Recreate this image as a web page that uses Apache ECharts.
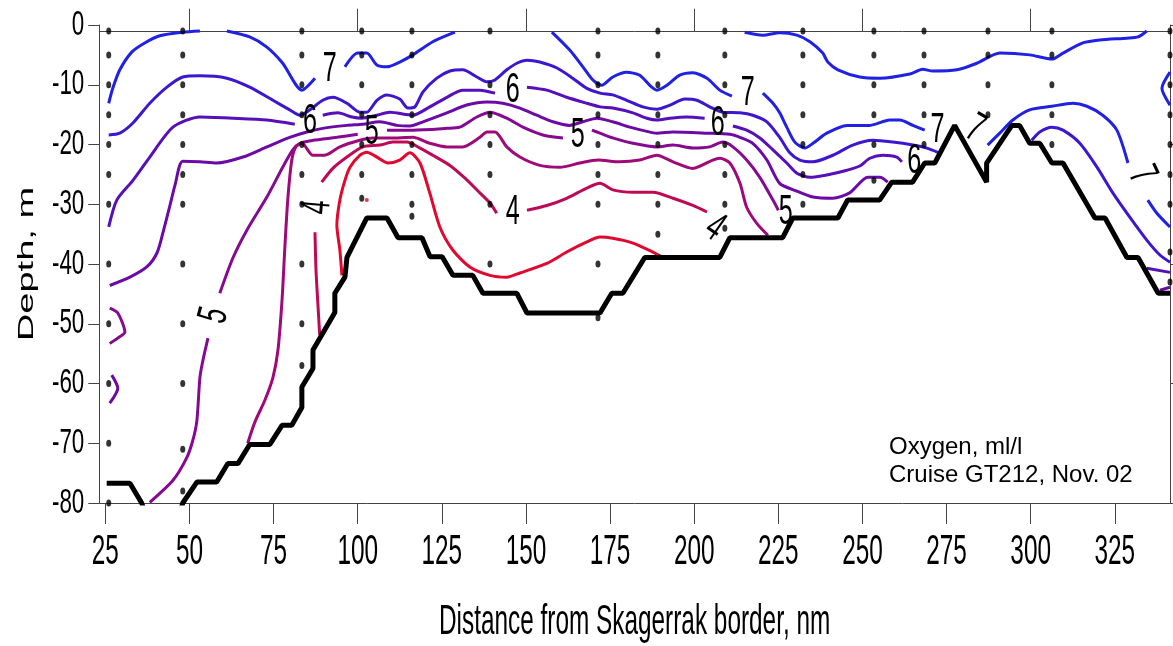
<!DOCTYPE html>
<html>
<head>
<meta charset="utf-8">
<script src="https://cdn.jsdelivr.net/npm/echarts@6/dist/echarts.min.js"></script>
<style>
  html, body { margin: 0; padding: 0; background: #fff; }
  #chart { width: 1173px; height: 646px; }
</style>
</head>
<body>
<div id="chart"></div>
<script>
// ticks
const xTicks = [25, 50, 75, 100, 125, 150, 175, 200, 225, 250, 275, 300, 325];
const topTicks = [50, 100, 150, 200, 250, 300];

// CTD stations: distance (nm) and sampled depths (m)
const stationX = [26.0, 48.0, 83.4, 101.2, 116.1, 139.3, 171.4, 189.2, 209.1, 232.3, 253.4, 268.3, 287.3, 306.3, 341.4];
const stationDepths = [
  [1, 5, 10, 15, 20, 25, 30, 40, 50, 60, 70, 80],
  [1, 5, 10, 15, 20, 25, 30, 40, 50, 60, 71, 78],
  [1, 5, 10, 15, 20, 25, 30, 40, 50, 57],
  [1, 5, 10, 15, 20, 25, 29],
  [1, 5, 10, 15, 20, 25, 30, 32],
  [1, 10, 15, 20, 25, 30, 40],
  [1, 5, 10, 15, 20, 25, 30, 40, 49],
  [1, 5, 10, 15, 20, 25, 30, 35],
  [1, 5, 10, 15, 20, 25, 30, 34],
  [1, 5, 10, 15, 20, 25, 30],
  [1, 5, 10, 15, 20, 26],
  [1, 5, 10, 15, 20],
  [1, 5, 10, 15],
  [1, 5, 10, 15, 20],
  [1, 5, 10, 15, 20, 25, 30, 38, 43]
];

// bottom profile
const seabed = [[25.4,-76.7],[32.3,-76.7],[35.8,-80],[37,-82],[47,-82],[48.0,-80],[52.2,-76.5],[58.1,-76.5],
  [61.4,-73.4],[64.4,-73.4],[67.9,-70.2],[73.9,-70.2],[77.5,-67.0],[80.4,-67.0],[83.4,-64.0],[83.4,-60.6],
  [86.7,-57.5],[86.7,-54.4],[93.2,-48.1],[93.2,-44.9],[96.2,-42.2],[96.8,-38.9],[102.7,-32.3],[108.7,-32.3],
  [112.0,-35.6],[119.1,-35.6],[121.5,-38.8],[125.1,-38.8],[128.3,-41.9],[134.2,-41.9],[137.2,-44.9],[147.3,-44.9],
  [150.3,-48.2],[172.0,-48.2],[175.5,-44.9],[178.8,-44.9],[185.3,-38.9],[207.6,-38.9],[210.6,-35.6],[226.3,-35.6],
  [229.3,-32.3],[242.7,-32.3],[245.6,-29.3],[255.1,-29.3],[258.7,-26.3],[264.9,-26.3],[268.5,-23.1],[271.5,-23.1],
  [277.4,-16.8],[286.9,-26.3],[286.9,-23.1],[294.4,-16.8],[296.7,-16.8],[299.7,-19.8],[302.7,-19.8],[306.3,-23.1],
  [309.6,-23.1],[319.1,-32.3],[322.1,-32.3],[328.6,-38.9],[331.9,-38.9],[337.9,-44.9],[341.4,-44.9]];

// oxygen isolines, ml/l (each level = list of segments)
const oxy7 = [
  [[26.0,-13.1],[27.2,-10.6],[29.3,-7.5],[32.9,-4.5],[36.7,-3.0],[41.2,-1.8],[48.0,-1.2],[53.1,-1.0]],
  [[61.1,-1.0],[67.9,-2.0],[73.0,-3.7],[77.7,-6.4],[83.4,-10.9],[87.3,-8.9]],
  [[96.2,-7.0],[100.0,-4.7],[102.7,-4.7],[105.7,-6.7],[108.7,-7.0],[112.5,-6.2],[116.4,-5.0],[122.3,-2.8],[128.9,-1.2]],
  [[157.7,-1.2],[163.0,-4.2],[166.9,-7.0],[169.9,-9.2],[172.5,-10.1],[175.8,-8.7],[179.9,-7.9],[183.8,-8.4],
   [186.8,-10.1],[188.9,-10.9],[191.9,-10.1],[195.7,-8.4],[199.6,-8.0],[203.8,-8.9],[207.6,-10.9],[211.2,-11.9]],
  [[220.4,-11.4],[223.4,-13.1],[225.4,-14.7],[227.5,-17.1],[229.9,-19.6],[232.9,-20.6],[235.3,-19.8],[239.4,-18.1],
   [245.4,-16.8],[252.2,-16.8],[258.1,-15.9],[261.1,-15.9],[265.0,-16.8],[268.5,-17.6]],
  [[215.0,-1.2],[220.4,-1.7],[225.4,-1.3],[230.5,-1.7],[234.4,-2.8],[238.2,-4.7],[239.7,-6.2],[242.7,-7.5],
   [249.2,-8.7],[255.2,-8.9],[264.1,-8.2],[267.9,-7.4],[270.9,-7.7],[278.1,-7.5],[284.0,-6.4],[290.8,-4.7],
   [299.7,-5.0],[306.3,-5.7],[309.6,-4.7],[315.5,-3.0],[320.5,-2.5],[328.6,-2.2],[331.9,-2.0],[334.5,-1.0]],
  [[287.2,-20.1],[290.8,-18.1],[294.7,-15.9],[299.7,-14.2],[306.3,-13.6],[312.5,-13.1],[316.7,-13.6],[321.4,-15.1],
   [325.6,-17.6],[328.9,-23.1]],
  [[334.8,-29.3],[337.5,-31.5],[341.4,-33.8]],
  [[341.4,-7.9],[339.0,-10.6],[341.4,-13.4]]
];
const oxy65 = [
  [[26.0,-18.4],[29.3,-18.1],[33.2,-16.4],[38.2,-13.1],[43.3,-10.4],[48.0,-8.7],[53.1,-8.5],[61.1,-8.9],
   [67.9,-10.4],[74.8,-12.6],[79.8,-14.2],[82.8,-15.1],[85.8,-14.2],[89.6,-12.6],[92.6,-12.1],[96.8,-13.1],
   [100.6,-14.6],[102.7,-14.6],[105.7,-12.6],[108.7,-11.7],[112.5,-12.4],[114.9,-13.9],[117.0,-13.7],[119.4,-11.2],
   [123.5,-8.9],[127.4,-7.7],[131.2,-7.5],[135.4,-8.7],[138.4,-9.5],[140.8,-9.2],[144.3,-7.5],[147.3,-6.4],
   [150.3,-5.9],[154.1,-6.2],[159.2,-7.2],[163.9,-8.9],[168.1,-10.6],[172.0,-11.4],[175.8,-11.7],[179.9,-12.6],
   [184.7,-13.7],[188.9,-14.1],[192.8,-13.4],[197.2,-12.4],[200.8,-12.6],[204.6,-13.7],[208.5,-14.6],[213.6,-14.7],
   [217.4,-15.1],[221.6,-16.2],[225.4,-18.8],[228.4,-21.4],[231.4,-22.6],[235.3,-22.9],[241.2,-21.8],[247.1,-20.1],
   [253.1,-19.3],[259.0,-19.6],[265.0,-20.1],[269.1,-20.6],[272.4,-21.3]],
  [[300.3,-19.3],[302.7,-17.9],[306.3,-17.1],[309.6,-17.6],[314.6,-19.8],[319.7,-23.8],[324.4,-28.1],[329.5,-32.2],
   [334.5,-36.0],[338.4,-38.5],[341.4,-39.7]]
];
const oxy6 = [
  [[26.0,-33.8],[28.4,-29.3],[33.2,-26.0],[38.2,-22.1],[45.1,-17.1],[53.1,-15.4],[62.9,-15.6],[73.0,-15.9],[81.3,-16.6]],
  [[89.6,-15.1],[94.1,-14.7],[98.3,-15.4],[101.2,-15.6],[105.7,-15.1],[109.5,-14.6],[116.4,-15.1],[121.4,-13.7],
   [126.5,-12.1],[131.2,-10.9],[136.3,-10.9],[140.8,-11.4]],
  [[150.3,-10.4],[156.2,-10.9],[162.1,-12.1],[168.1,-13.1],[172.0,-13.7],[175.8,-13.9],[181.8,-14.7],[185.9,-15.6],
   [188.9,-15.9],[192.8,-15.6],[197.8,-15.4],[203.1,-15.6]],
  [[211.5,-16.9],[215.6,-17.6],[219.5,-18.9],[223.4,-20.9],[227.5,-23.1],[230.5,-24.8],[234.4,-25.5],[239.4,-25.1],
   [245.4,-24.3],[249.2,-23.6],[252.2,-22.3],[256.1,-21.8],[260.2,-22.1],[261.7,-22.9]],
  [[334.5,-40.7],[341.4,-41.4]]
];
const oxy55 = [
  [[26.3,-43.6],[32.3,-42.2],[37.3,-40.5],[40.3,-38.2],[42.1,-34.8],[44.2,-30.2],[45.7,-26.8],[48.0,-22.8],
   [53.1,-22.9],[58.1,-23.1],[65.9,-22.1],[73.0,-20.4],[79.8,-18.8],[84.9,-17.9],[89.6,-17.3],[96.8,-16.8],
   [101.5,-16.6],[106.6,-16.2],[111.6,-16.8],[115.5,-16.9],[119.4,-16.2],[126.5,-14.7],[132.4,-13.4],[138.4,-12.9],
   [143.1,-13.1],[148.2,-13.9],[153.2,-15.1],[158.0,-16.2],[163.0,-16.8],[166.9,-16.2],[171.1,-15.6],[175.8,-16.2],
   [180.9,-17.1],[185.9,-17.8],[188.9,-18.1],[193.7,-17.9],[203.8,-18.1],[210.6,-18.3],[213.6,-18.8],[217.4,-19.8],
   [221.6,-22.6],[225.4,-26.5],[230.5,-27.8],[235.3,-28.8],[241.2,-29.0],[246.2,-28.1],[251.6,-25.5],[255.2,-25.5],
   [257.5,-26.3]],
  [[338.4,-44.4],[341.4,-43.9]],
  [[26.9,-58.6],[28.7,-60.8],[26.3,-63.3]]
];
const oxy5 = [
  [[38.2,-79.9],[45.1,-76.2],[49.2,-72.4],[51.0,-69.5],[52.2,-66.2],[53.1,-59.0],[54.0,-56.1],[55.5,-52.4]],
  [[59.0,-44.9],[62.9,-39.0],[67.1,-34.3],[73.0,-28.8],[77.7,-23.8],[80.7,-20.9],[82.8,-19.8],[86.7,-19.3],
   [93.8,-18.8],[100.0,-18.3]],
  [[108.7,-17.6],[116.4,-17.6],[126.5,-17.3],[130.3,-17.1],[135.4,-15.4],[139.3,-14.6],[144.3,-15.6],[149.1,-17.1],
   [155.0,-18.4],[161.0,-18.9]],
  [[169.6,-17.6],[172.0,-18.1],[175.8,-18.9],[181.8,-19.8],[188.9,-20.4],[193.7,-20.1],[199.6,-20.6],[204.6,-20.4],
   [208.5,-19.6],[211.5,-20.4],[215.6,-22.6],[219.5,-25.5],[223.4,-29.3],[225.0,-31.0]],
  [[26.3,-47.4],[28.7,-48.2],[30.8,-51.4],[28.7,-52.4],[26.3,-53.3]]
];
const oxy45 = [
  [[67.3,-70.0],[69.4,-66.5],[72.4,-62.8],[74.8,-59.0],[76.3,-54.4],[77.5,-46.1],[78.3,-37.7],[79.2,-29.3],
   [80.4,-22.6],[81.6,-20.4],[83.4,-19.8],[86.7,-21.8],[90.2,-21.8],[94.7,-20.4],[100.6,-19.3],[104.5,-18.9],
   [109.5,-18.9],[116.4,-18.8],[121.4,-19.8],[126.5,-20.4],[131.2,-20.4],[136.3,-18.8],[138.4,-17.9],[140.8,-17.9],
   [144.3,-20.4],[148.2,-22.1],[154.1,-23.5],[160.1,-23.8],[166.0,-23.1],[171.4,-22.6],[177.9,-22.9],[183.8,-22.6],
   [188.9,-21.8],[193.7,-22.9],[199.6,-24.0],[205.5,-22.6],[207.6,-22.3],[210.6,-23.1],[213.6,-26.5],[215.6,-30.5],
   [218.6,-33.2],[221.9,-35.2]]
];
const oxy4 = [
  [[88.7,-51.9],[88.1,-46.1],[87.6,-41.0],[87.3,-34.7]],
  [[89.3,-26.3],[92.6,-24.0],[96.8,-22.1],[101.5,-20.4],[106.6,-20.1],[110.4,-19.6],[114.6,-19.6],[118.5,-20.6],
   [122.3,-21.8],[127.4,-23.5],[131.8,-25.6],[136.3,-28.1],[139.3,-29.8],[141.3,-31.5]],
  [[150.3,-31.0],[156.2,-30.2],[162.1,-29.0],[168.1,-27.3],[172.0,-26.5],[175.8,-27.6],[181.8,-28.0],[187.7,-28.0],
   [193.7,-29.0],[199.6,-30.2],[203.8,-31.3]]
];
const oxy35 = [
  [[95.3,-41.9],[94.7,-37.7],[93.8,-33.5],[94.7,-29.3],[96.2,-26.0],[97.7,-23.8],[100.6,-21.8],[102.7,-21.3],
   [105.7,-22.1],[109.0,-23.1],[112.5,-22.6],[115.5,-21.4],[118.5,-23.1],[121.4,-28.1],[124.4,-33.8],[128.3,-37.7],
   [133.3,-40.5],[139.3,-41.9],[144.3,-42.2],[148.2,-41.5],[156.2,-39.9],[162.1,-38.0],[168.1,-36.3],[172.0,-35.5],
   [175.8,-35.7],[181.8,-36.5],[187.7,-38.0],[190.7,-38.9]]
];
const lowSpot = [[102.7, -29.3]];

const levelValues = [7, 6.5, 6, 5.5, 5, 4.5, 4, 3.5];
const levelSegments = [oxy7, oxy65, oxy6, oxy55, oxy5, oxy45, oxy4, oxy35];
const levelColors = ['#2121e4', '#3d17cf', '#5710b9', '#6c0aa6', '#850a91', '#a00a78', '#bd0a57', '#e0082f'];

// isoline labels: [distance, depth, text]
const contourLabels = [
  [91.7, -7.5, '7'], [85.8, -16.2, '6'], [104.2, -17.9, '5'], [88.1, -30.5, '4'], [57.5, -48.6, '5'],
  [146.1, -10.9, '6'], [165.4, -18.4, '5'], [146.1, -31.3, '4'], [215.9, -11.4, '7'], [207.0, -16.4, '6'],
  [206.1, -34.0, '4'], [227.2, -31.3, '5'], [272.3, -17.6, '7'], [283.4, -17.4, '7'], [265.4, -22.9, '6'],
  [333.0, -25.1, '7']
];
const labelAngles = [0, 0, 0, 85, 75, 0, 0, 0, 0, 0, -35, 0, 0, -30, 0, -65];

const xName = 'Distance from Skagerrak border, nm';
const yName = 'Depth, m';
const FONT = '"Liberation Sans", Arial, sans-serif';

const chart = echarts.init(document.getElementById('chart'), null, { renderer: 'canvas' });

const series = [{
  type: 'line',
  data: seabed,
  showSymbol: false,
  symbol: 'none',
  lineStyle: { color: '#000', width: 5 },
  z: 5,
  silent: true
}];
levelSegments.forEach((segs, i) => {
  segs.forEach(seg => {
    series.push({
      type: 'line',
      name: String(levelValues[i]),
      data: seg,
      symbol: 'none',
      smooth: 0.25,
      lineStyle: { color: levelColors[i], width: 3 },
      z: 3,
      silent: true
    });
  });
});
series.push({
  type: 'scatter',
  data: stationX.flatMap((x, i) => stationDepths[i].map(d => [x, -d])),
  symbol: 'circle',
  symbolSize: [5, 7],
  itemStyle: { color: '#000' },
  z: 6,
  silent: true
});
series.push({
  type: 'scatter',
  data: lowSpot,
  symbolSize: 4,
  itemStyle: { color: '#e0082f' },
  z: 6,
  silent: true
});

const axisColor = '#444';
chart.setOption({
  animation: false,
  backgroundColor: '#fff',
  grid: { left: 99.3, right: 3, top: 25, bottom: 143, containLabel: false, outerBoundsMode: 'none' },
  xAxis: [{
    type: 'value',
    min: 23.2,
    max: 341.4,
    position: 'bottom',
    axisLine: { show: true, onZero: false, lineStyle: { color: axisColor, width: 1 } },
    axisTick: { show: true, customValues: xTicks, length: 21, lineStyle: { color: axisColor } },
    axisLabel: { customValues: xTicks, fontSize: 42, fontFamily: FONT, color: '#000', margin: 28 },
    splitLine: { show: false },
    name: xName,
    nameLocation: 'middle',
    nameGap: 119,
    nameMoveOverlap: false,
    nameTextStyle: { fontSize: 42, fontFamily: FONT, color: '#000', verticalAlign: 'middle' }
  }, {
    type: 'value',
    min: 23.2,
    max: 341.4,
    position: 'top',
    offset: -6.7,
    axisLine: { show: true, onZero: false, lineStyle: { color: axisColor, width: 1 } },
    axisTick: { show: true, customValues: topTicks, length: 23, lineStyle: { color: axisColor } },
    axisLabel: { show: false },
    splitLine: { show: false }
  }],
  yAxis: [{
    type: 'value',
    min: -80,
    max: 0,
    interval: 10,
    position: 'left',
    axisLine: { show: true, onZero: false, lineStyle: { color: axisColor, width: 1 } },
    axisTick: { show: true, length: 11, lineStyle: { color: axisColor } },
    axisLabel: { fontSize: 35, fontFamily: FONT, color: '#000', margin: 15 },
    splitLine: { show: false },
    name: yName,
    nameLocation: 'middle',
    nameGap: 72,
    nameMoveOverlap: false,
    nameTextStyle: { fontSize: 38, fontFamily: FONT, color: '#000', verticalAlign: 'middle' }
  }, {
    type: 'value',
    min: -80,
    max: 0,
    interval: 20,
    position: 'right',
    axisLine: { show: true, onZero: false, lineStyle: { color: axisColor, width: 1 } },
    axisTick: { show: true, length: 6, lineStyle: { color: axisColor } },
    axisLabel: { show: false },
    splitLine: { show: false }
  }],
  series: series
});

// isoline labels and caption
const graphics = contourLabels.map((l, i) => {
  const p = chart.convertToPixel({ seriesIndex: 0 }, [l[0], l[1]]);
  return {
    type: 'text',
    x: p[0],
    y: p[1],
    rotation: labelAngles[i] * Math.PI / 180,
    scaleX: 0.6,
    z: 20,
    style: {
      text: l[2], fontSize: 42, fontFamily: FONT, fill: '#000',
      align: 'center', verticalAlign: 'middle', textAlign: 'center', textVerticalAlign: 'middle'
    }
  };
});
graphics.push({
  type: 'text',
  x: 889,
  y: 433,
  z: 20,
  style: {
    text: 'Oxygen, ml/l\nCruise GT212, Nov. 02',
    fontSize: 24, fontFamily: FONT, fill: '#000', lineHeight: 28,
    align: 'left', verticalAlign: 'top', textAlign: 'left', textVerticalAlign: 'top'
  }
});
chart.setOption({ graphic: graphics });

// the source figure uses tall, narrow lettering on its axes
function squeezeAxisText() {
  const xs = new Set(xTicks.map(String));
  const ys = new Set([0, -10, -20, -30, -40, -50, -60, -70, -80].map(String));
  const walk = el => {
    if (el.type === 'text' && el.style && typeof el.style.text === 'string') {
      const t = el.style.text;
      if (t === yName) el.attr({ scaleY: 0.58 });
      else if (t === xName || xs.has(t)) el.attr({ scaleX: 0.58 });
      else if (ys.has(t)) el.attr({ scaleX: 0.64 });
    }
    if (el.isGroup) el.children().forEach(walk);
  };
  chart.getZr().storage.getRoots().forEach(walk);
  chart.getZr().refresh();
}
squeezeAxisText();
</script>
</body>
</html>
